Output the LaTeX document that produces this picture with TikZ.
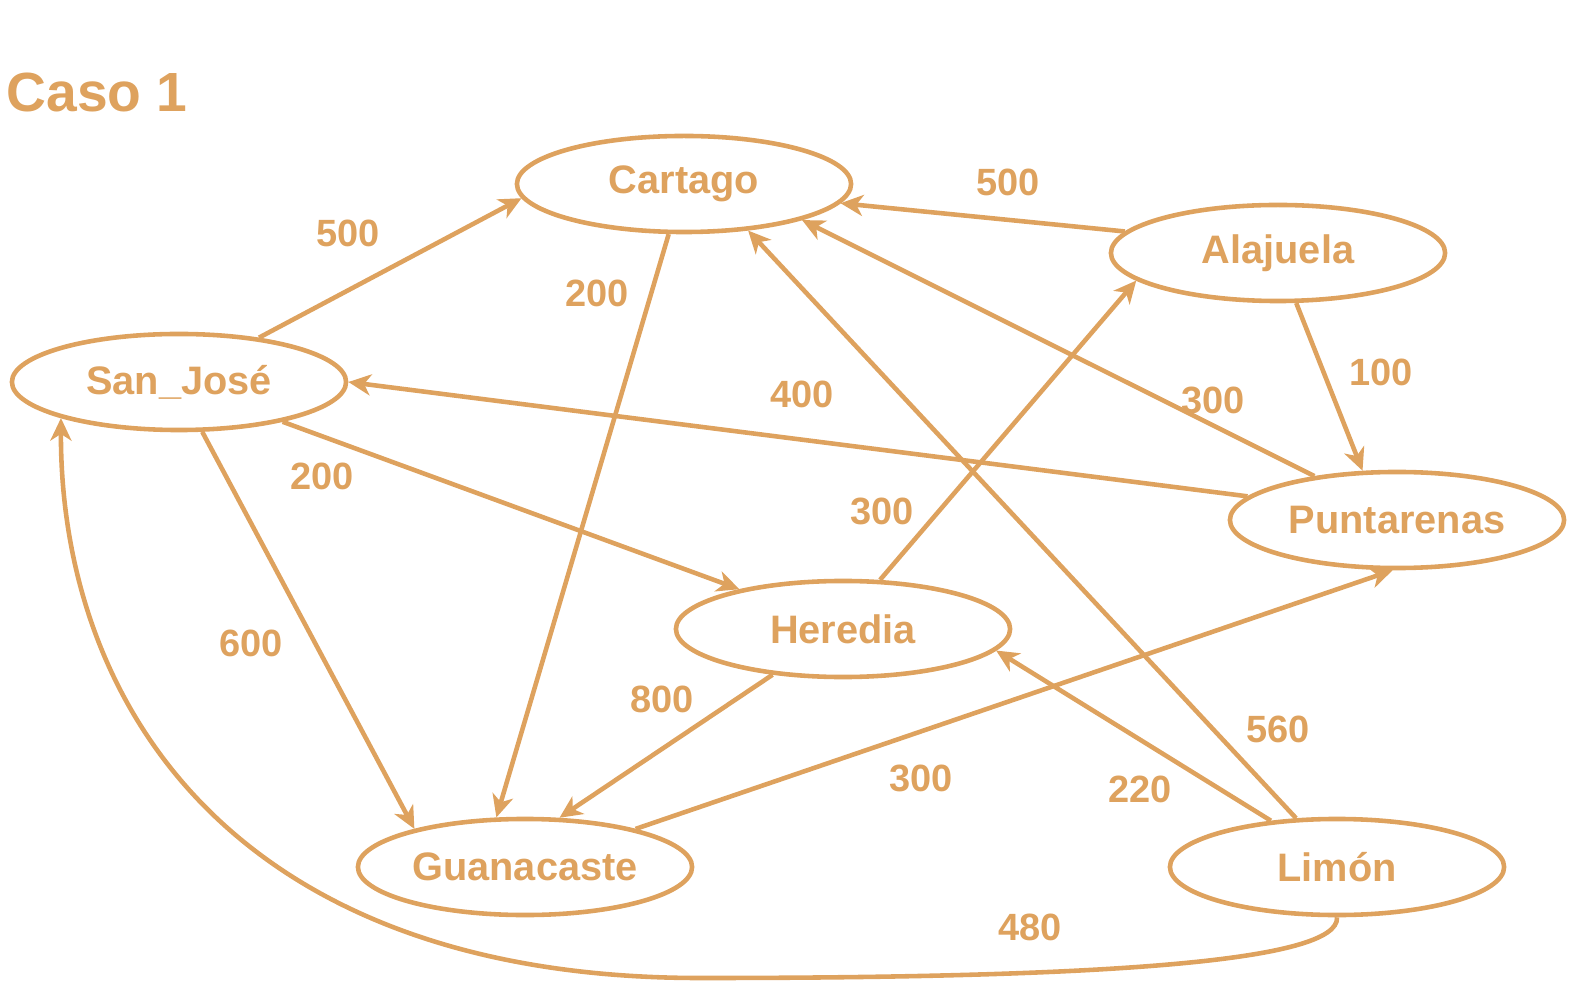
\documentclass[tikz,border=0pt]{standalone}
\usepackage{fontspec}
\setmainfont{Liberation Sans}
\usepackage{tikz}
\usetikzlibrary{arrows.meta,shapes.geometric}
\definecolor{caso}{RGB}{222,162,94}

\begin{document}
\begin{tikzpicture}[x=0.01cm,y=-0.01cm,
   line width=1.3pt,color=caso,
   city/.style={ellipse,draw,inner sep=0pt,minimum width=3.34cm,minimum height=0.96cm,
      font=\fontsize{11.3}{13}\selectfont\bfseries},
   wt/.style={font=\fontsize{10.8}{12}\selectfont\bfseries},
   >={Stealth[length=6.4pt,width=6pt,inset=1.9pt]}]
   \useasboundingbox (0,0) rectangle (1583,989);
   \draw (97,93) node[font=\fontsize{15.7}{18}\selectfont\bfseries] (title) {Caso 1};

    \draw (684,184) node[city] (cart) {Cartago};
    \draw (1278,253) node[city] (ala) {Alajuela};
    \draw (179,382) node[city] (sj) {San\_José};
    \draw (1397,520) node[city] (punt) {Puntarenas};
    \draw (843,629) node[city] (her) {Heredia};
    \draw (525,867) node[city] (gua) {Guanacaste};
    \draw (1337,867) node[city] (lim) {Limón};

       \path[->] (sj.29.7) edge (cart.185.7);
       \path[->] (cart.253.3) edge (gua.120.8);
       \path[->] (ala.172.8) edge (cart.353.3);
       \path[->] (ala.290.8) edge (punt.125.4);
       \path[->] (punt.171.5) edge (sj.0);
       \path[->] (punt.152.6) edge (cart.343);
       \path[->] (sj.339) edge (her.159.2);
       \path[->] (sj.295.6) edge (gua.161.8);
       \path[->] (her.53.5) edge (ala.191.6);
       \path[->] (her.213.9) edge (gua.55.6);
       \path[->] (gua.19.5) edge (punt.265.6);
       \path[->] (lim.145) edge (her.352.4);
       \path[->] (lim.130.6) edge (cart.324.3);
       \draw[->] (lim.south) .. controls (1340,962) and (1100,978) .. (700,978)
          .. controls (230,978) and (60,700) .. (sj.197.7);

   \draw (348,233) node[wt] (w-sj-cart) {500};
   \draw (597,293) node[wt] (w-cart-gua) {200};
   \draw (1008,182) node[wt] (w-ala-cart) {500};
   \draw (1381,372) node[wt] (w-ala-punt) {100};
   \draw (802,394) node[wt] (w-punt-sj) {400};
   \draw (1213,400) node[wt] (w-punt-cart) {300};
   \draw (322,476) node[wt] (w-sj-her) {200};
   \draw (251,643) node[wt] (w-sj-gua) {600};
   \draw (882,511) node[wt] (w-her-ala) {300};
   \draw (662,699) node[wt] (w-her-gua) {800};
   \draw (921,778) node[wt] (w-gua-punt) {300};
   \draw (1140,789) node[wt] (w-lim-her) {220};
   \draw (1278,729) node[wt] (w-lim-cart) {560};
   \draw (1030,927) node[wt] (w-lim-sj) {480};

\end{tikzpicture}
\end{document}
